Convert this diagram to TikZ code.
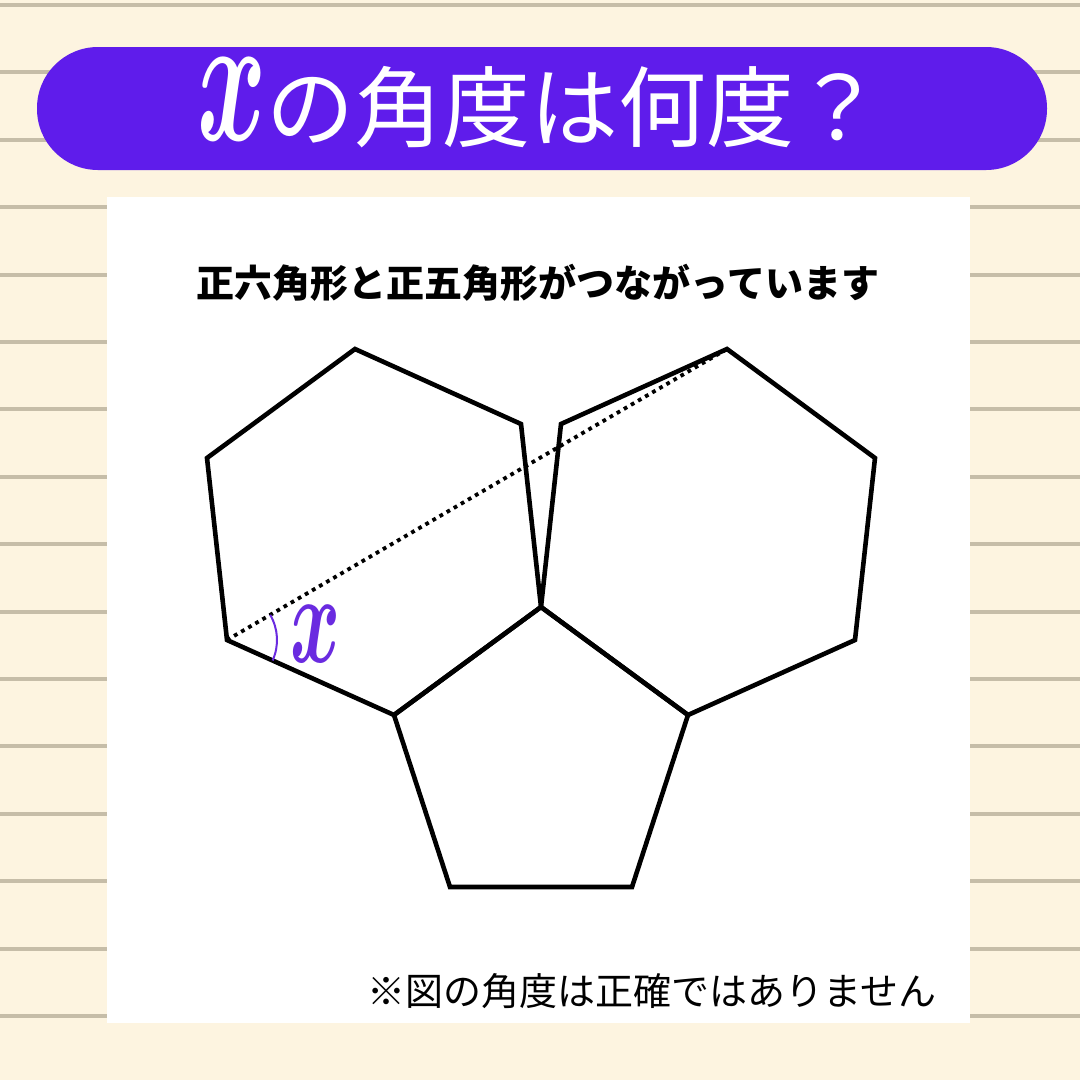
\documentclass[tikz,border=0pt]{standalone}
\usepackage{fontspec}
\usepackage{graphicx}
\newfontfamily\cjk{Noto Sans CJK JP}
\definecolor{bg}{HTML}{FDF4E0}
\definecolor{stripe}{HTML}{C6BDA8}
\definecolor{banner}{HTML}{5F1CEB}
\definecolor{markc}{HTML}{6A2BE0}
\tikzset{
  poly/.style={draw=black, line width=4.6pt, line join=miter},
  dotline/.style={draw=black, line width=3.8pt, dash pattern=on 3.8pt off 4.4pt},
  anglearc/.style={draw=markc, line width=2pt},
}
\begin{document}
\begin{tikzpicture}[x=1pt,y=-1pt]
\useasboundingbox (0,0) rectangle (1080,1080);
\fill[bg] (0,0) rectangle (1080,1080);
\foreach \k in {0,...,16} \draw[stripe, line width=4pt] (0,{5+67.4*\k}) -- (1080,{5+67.4*\k});
\fill[white] (107,197) rectangle (970,1023);
\fill[banner, rounded corners=61pt] (37,47) rectangle (1047,170);
\node[text=white, anchor=base, inner sep=0pt] (title) at (540,140)
  {\scalebox{10.5}[18.5]{\boldmath$x$}\cjk\fontsize{88}{100}\selectfont の角度は何度？};
\node[anchor=base, inner sep=0pt] (sub) at (538,297)
  {\cjk\bfseries\fontsize{38}{40}\selectfont 正六角形と正五角形がつながっています};
\node[anchor=base east, inner sep=0pt] (note) at (937,1005)
  {\cjk\fontsize{38}{40}\selectfont ※図の角度は正確ではありません};
% vertices
\coordinate (a1) at (355,349);
\coordinate (a2) at (521,424);
\coordinate (P)  at (541,607);
\coordinate (a4) at (394,715);
\coordinate (a5) at (227,640);
\coordinate (a6) at (207,458);
\coordinate (b3) at (688,715);
\coordinate (b4) at (632,887);
\coordinate (b5) at (450,887);
\coordinate (c3) at (855,640);
\coordinate (c4) at (875,458);
\coordinate (c5) at (727,349);
\coordinate (c6) at (561,424);
% dotted diagonal
\draw[dotline] (a5) -- (c5);
% polygons
\draw[poly] (a1) -- (a2) -- (P) -- (a4) -- (a5) -- (a6) -- cycle;
\draw[poly] (a4) -- (P) -- (b3) -- (b4) -- (b5) -- cycle;
\draw[poly] (P) -- (b3) -- (c3) -- (c4) -- (c5) -- (c6) -- cycle;
% angle mark
\draw[anglearc] ([shift={(-24.2:50pt)}]a5) arc[start angle=-24.2, end angle=30.2, radius=50pt];
\node[text=markc, inner sep=0pt] (xlab) at (316,634) {\scalebox{7.6}[12.8]{\boldmath$x$}};
\end{tikzpicture}
\end{document}
